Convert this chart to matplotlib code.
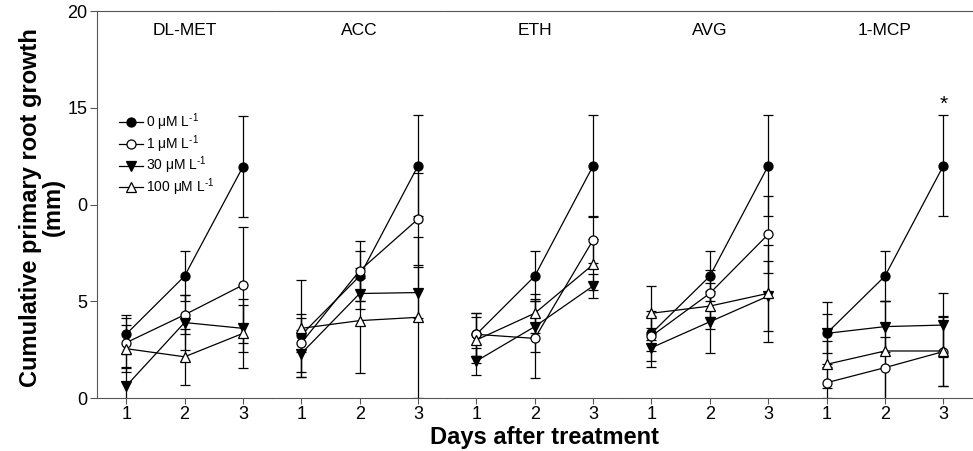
import matplotlib
matplotlib.use("Agg")
import matplotlib.pyplot as plt
from matplotlib.lines import Line2D

plt.rcParams['font.family'] = ['Liberation Sans', 'DejaVu Sans']
plt.rcParams['mathtext.fontset'] = 'custom'
plt.rcParams['mathtext.rm'] = 'Liberation Sans'

# treatments (one panel each) and sampling days
panels = ["DL-MET", "ACC", "ETH", "AVG", "1-MCP"]
days = [1, 2, 3]

# mean cumulative growth (mm) per panel, per concentration
mean_0 = [[3.3, 6.3, 11.95], [3.26, 6.3, 12.0], [3.29, 6.3, 12.0], [3.34, 6.3, 12.0], [3.34, 6.3, 12.0]]
err_0 = [[1.0, 1.3, 2.6], [0.9, 1.3, 2.6], [1.1, 1.3, 2.6], [0.9, 1.3, 2.6], [1.6, 1.3, 2.6]]

mean_1 = [[2.86, 4.3, 5.84], [2.84, 6.58, 9.25], [3.29, 3.08, 8.17], [3.2, 5.41, 8.46], [0.79, 1.57, 2.4]]
err_1 = [[1.3, 1.0, 3.0], [1.5, 1.55, 2.4], [1.1, 2.03, 1.2], [1.3, 1.2, 2.0], [0.8, 1.6, 1.8]]

mean_30 = [[0.62, 3.9, 3.6], [2.3, 5.4, 5.45], [1.91, 3.69, 5.79], [2.6, 3.94, 5.27], [3.34, 3.69, 3.77]]
err_30 = [[1.0, 1.4, 1.2], [1.2, 0.8, 1.3], [0.7, 1.3, 0.6], [1.0, 1.6, 1.8], [1.0, 1.3, 1.67]]

mean_100 = [[2.55, 2.13, 3.34], [3.6, 4.0, 4.17], [3.0, 4.38, 6.9], [4.38, 4.75, 5.41], [1.74, 2.43, 2.43]]
err_100 = [[1.2, 1.45, 1.8], [2.5, 2.7, 4.17], [1.2, 1.0, 1.3], [1.4, 1.2, 2.5], [1.2, 2.6, 1.8]]

labels = ["0 \u03bcM L$^{\u2010\\mathrm{1}}$", "1 \u03bcM L$^{\u2010\\mathrm{1}}$",
          "30 \u03bcM L$^{\u2010\\mathrm{1}}$", "100 \u03bcM L$^{\u2010\\mathrm{1}}$"]
y_ticks = [0, 5, 10, 15, 20]
y_ticklabels = ["0", "5", "0", "15", "20"]

series = [
    (mean_0, err_0, 'o', 'black'),
    (mean_1, err_1, 'o', 'white'),
    (mean_30, err_30, 'v', 'black'),
    (mean_100, err_100, '^', 'white'),
]

fig, axes = plt.subplots(1, 5, figsize=(9.73, 4.51), dpi=100, sharey=True)
fig.subplots_adjust(left=0.0997, right=0.9995, bottom=0.1175, top=0.9756, wspace=0)

spine_col = '#555555'
for i, ax in enumerate(axes):
    for m, e, mk, fc in series:
        ax.errorbar(days, m[i], yerr=e[i], color='black', lw=0.9, elinewidth=0.9,
                    capsize=3.5, capthick=0.9, marker=mk, markersize=6.5,
                    markerfacecolor=fc, markeredgecolor='black', markeredgewidth=0.9)
    ax.set_xlim(0.5, 3.5)
    ax.set_ylim(0, 20)
    ax.set_xticks(days)
    ax.set_xticklabels([str(d) for d in days], fontsize=13)
    ax.tick_params(axis='x', direction='out', length=4, width=0.8, color=spine_col, pad=2)
    ax.text(2, 19.0, panels[i], ha='center', va='center', fontsize=12.5)
    ax.spines['right'].set_visible(False)
    ax.spines['top'].set_color(spine_col)
    ax.spines['bottom'].set_color(spine_col)
    if i == 0:
        ax.spines['left'].set_color(spine_col)
        ax.set_yticks(y_ticks)
        ax.set_yticklabels(y_ticklabels, fontsize=13)
        ax.tick_params(axis='y', direction='out', length=5, width=0.8, color=spine_col, pad=2)
        handles = [Line2D([], [], color='black', lw=0.9, marker=mk, markersize=6.5,
                          markerfacecolor=fc, markeredgecolor='black', markeredgewidth=0.9)
                   for _, _, mk, fc in series]
        ax.legend(handles, labels, loc='upper left', bbox_to_anchor=(0.07, 0.765), frameon=False,
                  fontsize=10, handlelength=1.7, handletextpad=0.25, labelspacing=0.0,
                  borderpad=0.2)
    else:
        ax.spines['left'].set_visible(False)
        ax.tick_params(axis='y', left=False)

# significance mark
axes[4].text(3, 15.2, "*", ha='center', va='center', fontsize=15)

fig.text(0.043, 0.54, "Cumulative primary root growth\n(mm)", rotation=90, ha='center', va='center',
         fontsize=17, fontweight='bold', linespacing=1.0)
fig.text(0.56, 0.03, "Days after treatment", ha='center', va='center', fontsize=17, fontweight='bold')

fig.savefig("out.png", dpi=100)
